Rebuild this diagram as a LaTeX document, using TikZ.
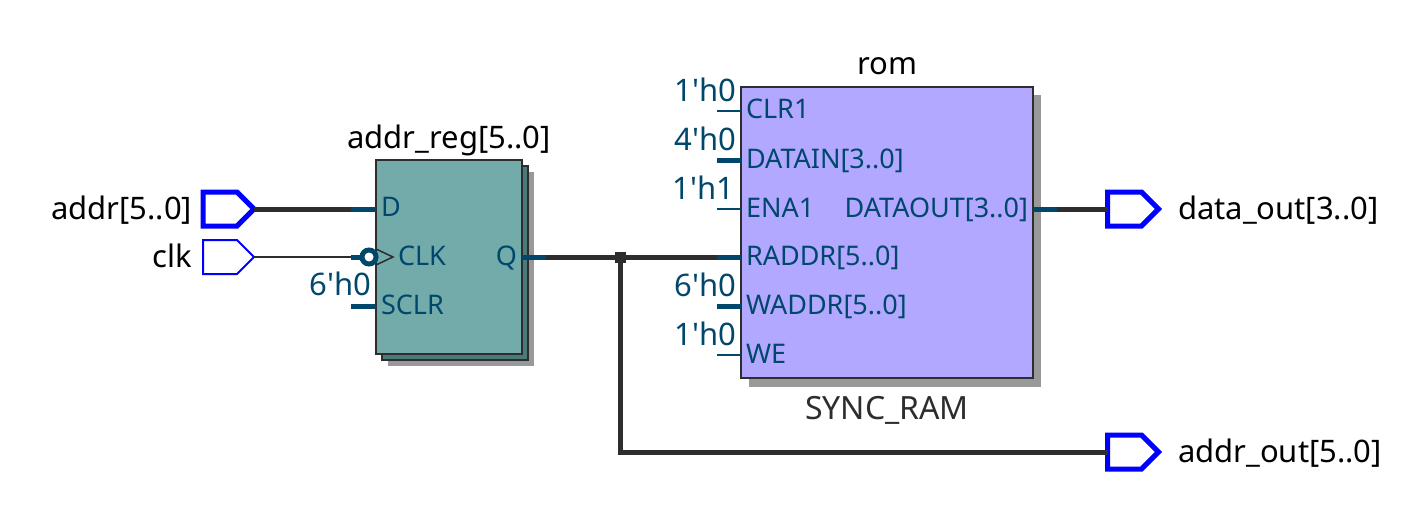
\documentclass[tikz,border=0pt]{standalone}
\usepackage{fontspec}
\setmainfont{Noto Sans}
\usetikzlibrary{shapes.symbols}
\definecolor{wirec}{HTML}{2D2D2D}
\definecolor{pinc}{HTML}{00476B}
\definecolor{regc}{HTML}{73ABAB}
\definecolor{regback}{HTML}{4A7A7A}
\definecolor{romc}{HTML}{B2A8FF}
\definecolor{shadowc}{HTML}{999999}
\definecolor{portc}{HTML}{0000FF}
\tikzset{
  x=1pt,y=-1pt,
  lbl/.style={inner sep=0pt,outer sep=0pt,yshift=-1pt,font=\fontsize{31}{31}\selectfont,text=black},
  lblw/.style={lbl,anchor=base west},
  lble/.style={lbl,anchor=base east},
  lblc/.style={lbl,anchor=base},
  pinlbl/.style={inner sep=0pt,outer sep=0pt,yshift=-1pt,font=\fontsize{27}{27}\selectfont,text=pinc},
  pinw/.style={pinlbl,anchor=base west},
  pine/.style={pinlbl,anchor=base east},
  constlbl/.style={lble,text=pinc},
  bus/.style={draw=wirec,line width=5pt},
  thinwire/.style={draw=wirec,line width=2pt},
  busstub/.style={draw=pinc,line width=5pt},
  thinstub/.style={draw=pinc,line width=2pt},
  blockbox/.style={draw=wirec,line width=2pt,inner sep=0pt,outer sep=0pt,anchor=north west},
  portshape/.style={signal,signal to=east,signal from=nowhere,signal pointer angle=90,
     draw=portc,fill=white,inner sep=0pt,outer sep=0pt,minimum height=34pt,minimum width=51pt,line join=miter},
  busport/.style={portshape,line width=5pt},
  thinport/.style={portshape,line width=2pt},
}
\begin{document}
\begin{tikzpicture}
\useasboundingbox (0,0) rectangle (1401,519);
% shadows and blocks
\fill[shadowc] (388,172) rectangle (534,366);
\node[blockbox,fill=regback,minimum width=146pt,minimum height=194pt] (regb) at (382,166) {};
\node[blockbox,fill=regc,minimum width=146pt,minimum height=194pt] (reg) at (376,160) {};
\fill[shadowc] (749,95) rectangle (1041,387);
\node[blockbox,fill=romc,minimum width=292pt,minimum height=291pt] (rom) at (741,87) {};
% ports
\node[busport] (addr) at (220,209) {};
\node[thinport] (clk) at (220,257) {};
\node[busport] (dout) at (1124.5,209) {};
\node[busport] (aout) at (1124.5,452) {};
% free pin ends
\coordinate (dpin) at (351,209);
\coordinate (dend) at (376,209);
\coordinate (cpin) at (351,257);
\coordinate (cend) at (369,257);
\coordinate (spin) at (351,306);
\coordinate (send) at (376,306);
\coordinate (qend) at (522,257);
\coordinate (qpin) at (546,257);
\coordinate (jn) at (620,257);
\coordinate (rpin) at (717,257);
\coordinate (rend) at (741,257);
\coordinate (opin) at (1033,209);
\coordinate (oend) at (1057,209);
% wires
\draw[bus] (addr.east) -- (dpin);
\draw[thinwire] (clk.east) -- (cpin);
\draw[bus] (qpin) -- (rpin);
\draw[bus,line join=miter] (jn) |- (aout.west);
\draw[bus] (oend) -- (dout.west);
\node[fill=wirec,minimum size=11pt,inner sep=0pt,outer sep=0pt] (junction) at (jn) {};
% stubs on register
\draw[busstub] (dpin) -- (dend);
\draw[busstub] (cpin) -- (cend);
\draw[busstub] (spin) -- (send);
\draw[busstub] (qend) -- (qpin);
% clock symbol
\draw[wirec,line width=1.5pt] (376,249) -- (393,257) -- (376,265);
\node[circle,draw=pinc,fill=white,line width=5pt,minimum size=14pt,inner sep=0pt,outer sep=0pt] (bubble) at (cend) {};
% stubs on rom
\coordinate (p1) at (717,110.5); \coordinate (e1) at (741,110.5);
\coordinate (p2) at (717,160);   \coordinate (e2) at (741,160);
\coordinate (p3) at (717,208.5); \coordinate (e3) at (741,208.5);
\coordinate (p5) at (717,306);   \coordinate (e5) at (741,306);
\coordinate (p6) at (717,355);   \coordinate (e6) at (741,355);
\draw[thinstub] (p1) -- (e1);
\draw[busstub] (p2) -- (e2);
\draw[thinstub] (p3) -- (e3);
\draw[busstub] (rpin) -- (rend);
\draw[busstub] (p5) -- (e5);
\draw[thinstub] (p6) -- (e6);
\draw[busstub] (opin) -- (oend);
% labels
\node[lble] (taddr) at (192,218) {addr[5..0]};
\node[lble] (tclk) at (192,266) {clk};
\node[lblw] (tdout) at (1178,218) {data\_out[3..0]};
\node[lblw] (taout) at (1178,461) {addr\_out[5..0]};
\node[lblc] (treg) at (449,147) {addr\_reg[5..0]};
\node[lblc] (trom) at (887,74) {rom};
\node[lblc,text=wirec,font=\fontsize{32}{32}\selectfont] (tsync) at (887,418) {SYNC\_RAM};
\node[pinw] (ld) at (381,215) {D};
\node[pinw] (lclk) at (398,264) {CLK};
\node[pinw] (lsclr) at (381,313) {SCLR};
\node[pine] (lq) at (517,264) {Q};
\node[constlbl] (c0) at (371,294) {6\textquotesingle h0};
\node[pinw] (a1) at (746,117) {CLR1};
\node[pinw] (a2) at (746,167) {DATAIN[3..0]};
\node[pinw] (a3) at (746,216) {ENA1};
\node[pinw] (a4) at (746,264) {RADDR[5..0]};
\node[pinw] (a5) at (746,313) {WADDR[5..0]};
\node[pinw] (a6) at (746,362) {WE};
\node[pine] (a7) at (1028,216) {DATAOUT[3..0]};
\node[constlbl] (c1) at (736,101) {1\textquotesingle h0};
\node[constlbl] (c2) at (736,149) {4\textquotesingle h0};
\node[constlbl] (c3) at (734,198) {1\textquotesingle h1};
\node[constlbl] (c4) at (736,295) {6\textquotesingle h0};
\node[constlbl] (c5) at (736,344) {1\textquotesingle h0};
\end{tikzpicture}
\end{document}
